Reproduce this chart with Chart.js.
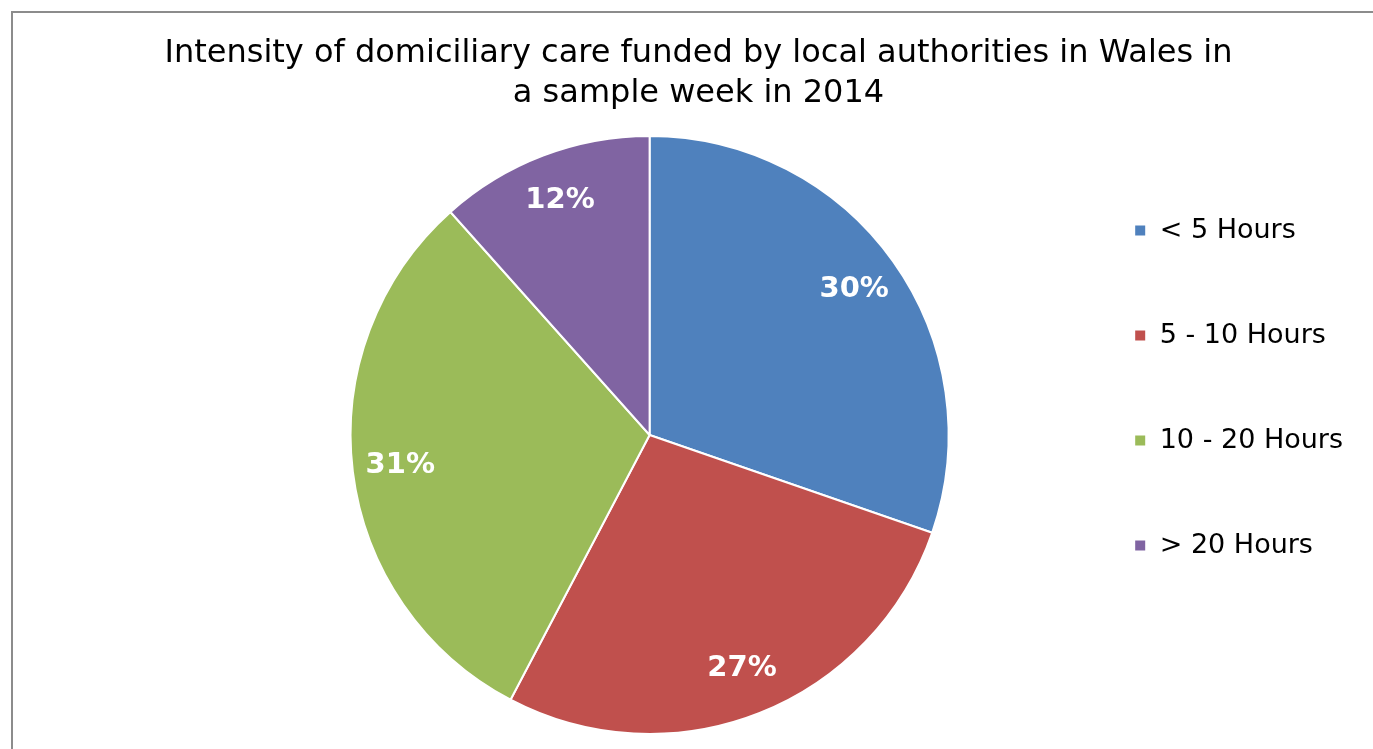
<!DOCTYPE html>
<html>
<head>
<meta charset="utf-8">
<script src="https://cdn.jsdelivr.net/npm/chart.js@4/dist/chart.umd.min.js"></script>
<style>
  html, body { margin: 0; padding: 0; background: #fff; overflow: hidden; }
  #moldura { position: absolute; left: 11px; top: 11px; width: 1371px; height: 760px; border: 2px solid #8c8c8c; }
  #grafico { display: block; }
</style>
</head>
<body>
<div id="moldura"><canvas id="grafico" width="1371" height="760"></canvas></div>
<script>
var categorias = ["< 5 Hours", "5 - 10 Hours", "10 - 20 Hours", "> 20 Hours"];
var percentuais = [30.3, 27.4, 30.7, 11.6];
var cores = ["#4F81BD", "#C0504D", "#9BBB59", "#8064A2"];
var tituloLinhas = ["Intensity of domiciliary care funded by local authorities in Wales in", "a sample week in 2014"];

// escreve o % dentro de cada fatia
var rotulosFatias = {
    id: 'rotulosFatias',
    afterDatasetsDraw(chart) {
        var ctx = chart.ctx;
        var meta = chart.getDatasetMeta(0);
        var total = percentuais.reduce((a, b) => a + b, 0);
        ctx.save();
        ctx.font = 'bold 29px "DejaVu Sans"';
        ctx.fillStyle = '#ffffff';
        ctx.textAlign = 'center';
        ctx.textBaseline = 'middle';
        meta.data.forEach((arco, i) => {
            var p = arco.getProps(['x', 'y', 'startAngle', 'endAngle', 'outerRadius'], true);
            var meio = (p.startAngle + p.endAngle) / 2;
            var r = p.outerRadius * 0.84;
            var texto = Math.round(percentuais[i] / total * 100) + '%';
            ctx.fillText(texto, p.x + Math.cos(meio) * r, p.y + Math.sin(meio) * r);
        });
        ctx.restore();
    }
};

var grafico = new Chart(document.getElementById('grafico').getContext('2d'), {
    type: 'pie',
    data: {
        labels: categorias,
        datasets: [{
            data: percentuais,
            backgroundColor: cores,
            borderColor: '#ffffff',
            borderWidth: 2
        }]
    },
    options: {
        responsive: false,
        animation: false,
        layout: {
            padding: { left: 31, right: 31, top: 0, bottom: 38 }
        },
        plugins: {
            tooltip: { enabled: false },
            title: {
                display: true,
                text: tituloLinhas,
                color: '#000000',
                font: { size: 32, weight: 'normal', family: 'DejaVu Sans', lineHeight: 1.25 },
                padding: { top: 21, bottom: 21 }
            },
            // caixa vazia a esquerda so para empurrar a pizza
            subtitle: {
                display: true,
                position: 'left',
                fullSize: false,
                text: ' ',
                font: { size: 1, lineHeight: 1 },
                padding: { top: 0, bottom: 198 }
            },
            legend: {
                position: 'right',
                align: 'start',
                fullSize: false,
                title: {
                    display: true,
                    text: ' ',
                    font: { size: 1, lineHeight: 1 },
                    padding: { top: 0, bottom: 3 }
                },
                labels: {
                    color: '#000000',
                    boxWidth: 12,
                    boxHeight: 12,
                    padding: 78,
                    font: { size: 27, family: 'DejaVu Sans' }
                }
            }
        }
    },
    plugins: [rotulosFatias]
});
</script>
</body>
</html>
